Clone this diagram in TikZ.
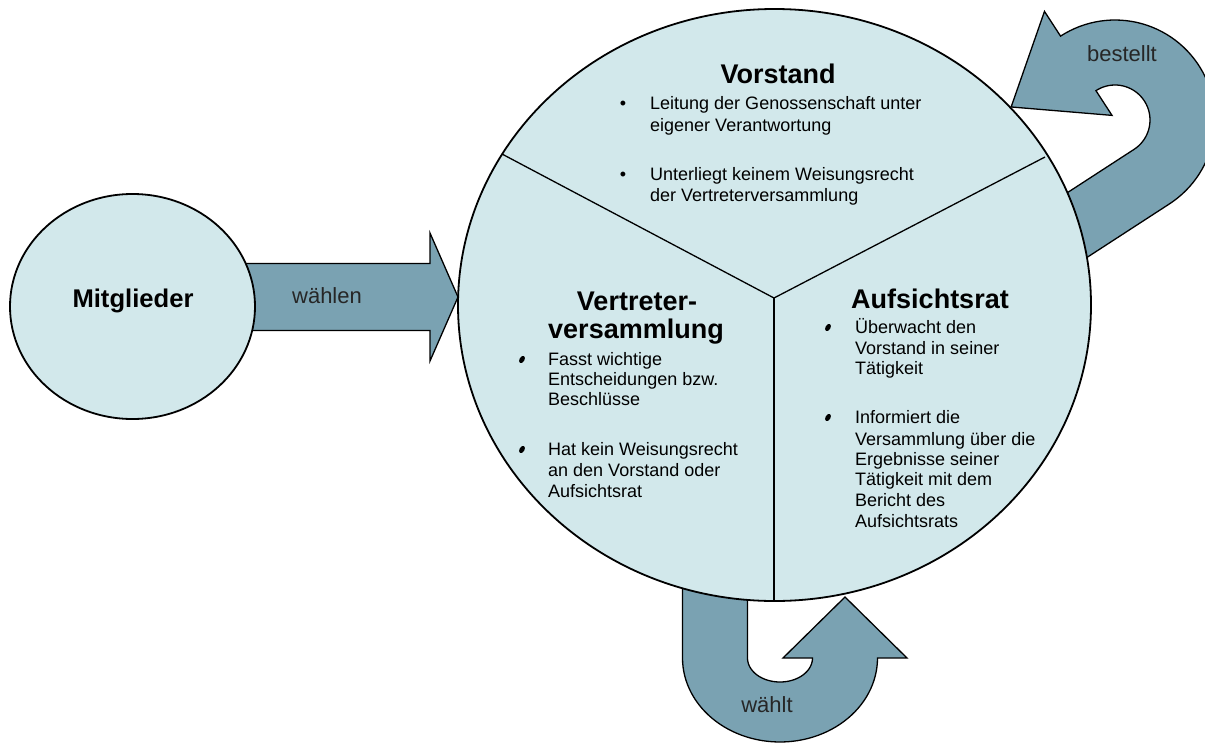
\documentclass[tikz,border=0pt]{standalone}
\usepackage{fontspec}
\setmainfont{Liberation Sans}
\usetikzlibrary{shapes.geometric}
\definecolor{arrowfill}{HTML}{7AA2B2}
\definecolor{bubble}{HTML}{D2E8EB}
\begin{document}
\begin{tikzpicture}[x=1pt,y=-1pt,
  uarrow/.style={fill=arrowfill, draw=black, line width=1.3pt, line join=miter},
  bubbleshape/.style={ellipse, fill=bubble, draw=black, line width=1.8pt, inner sep=0pt},
  divider/.style={draw=black, line width=1.3pt},
  title/.style={font=\fontsize{27}{31}\selectfont\bfseries, inner sep=0pt, anchor=base},
  txt/.style={font=\fontsize{18}{21}\selectfont, inner sep=0pt, anchor=base west},
  bul/.style={font=\fontsize{18}{21}\selectfont, inner sep=0pt, anchor=base},
  sbul/.style={ellipse, fill=black, inner sep=0pt, minimum width=8pt, minimum height=5pt, rotate=60},
  lbl/.style={font=\fontsize{22}{26}\selectfont, inner sep=0pt, anchor=base, text=black!85},
  uturnlow/.pic={
    \draw[uarrow] (-97.5,-150) -- (-97.5,0)
      -- plot[domain=180:0, samples=60] ({97.5*cos(\x)},{84*sin(\x)})
      -- (127,0) -- (65,-61) -- (3,0) -- (32.5,0)
      -- plot[domain=0:180, samples=40] ({32.5*cos(\x)},{24*sin(\x)})
      -- (-32.5,-150) -- cycle;
  },
  uturnhigh/.pic={
    \draw[uarrow] (-100,-160) -- (-100,0)
      -- plot[domain=180:0, samples=60] ({100*cos(\x)},{100*sin(\x)})
      -- (129.5,0) -- (67.5,-80) -- (5.5,0) -- (35,0)
      -- plot[domain=0:180, samples=40] ({35*cos(\x)},{35*sin(\x)})
      -- (-35,-160) -- cycle;
  }]
\useasboundingbox (0,0) rectangle (1205,742);
\clip (0,0) rectangle (1205,742);

% block arrows (behind the bubbles)
\draw[uarrow] (240,263.5) -- (430,263.5) -- (430,233) -- (458,297) -- (430,361) -- (430,330.5) -- (240,330.5) -- cycle;
\pic[rotate=123] (best) at (1115,120) {uturnhigh};
\pic (waehlt) at (780,658) {uturnlow};

% bubbles
\node[bubbleshape, minimum width=245pt, minimum height=225pt] (mit) at (132.5,306.5) {};
\node[bubbleshape, minimum width=633pt, minimum height=592pt] (main) at (774.5,305) {};

% dividers
\coordinate (J) at (774,298);
\coordinate (eL) at (502,154);
\coordinate (eR) at (1045,157);
\coordinate (eB) at (774,601);
\draw[divider] (J) -- (eL);
\draw[divider] (J) -- (eR);
\draw[divider] (J) -- (eB);

% labels
\node[font=\fontsize{25.6}{30}\selectfont\bfseries, inner sep=0pt, anchor=base] (mitlbl) at (133,307) {Mitglieder};
\node[lbl] (l1) at (327,303) {wählen};
\node[lbl] (l2) at (1122,61) {bestellt};
\node[lbl] (l3) at (767,712) {wählt};

% Vorstand
\node[title] (tV) at (778,83) {Vorstand};
\node[bul] (bV1) at (623,109) {•};
\node[txt] (v1) at (650,109) {Leitung der Genossenschaft unter};
\node[txt] (v2) at (650,131) {eigener Verantwortung};
\node[bul] (bV2) at (623,180) {•};
\node[txt] (v3) at (650,180) {Unterliegt keinem Weisungsrecht};
\node[txt] (v4) at (650,201) {der Vertreterversammlung};

% Vertreterversammlung
\node[title] (tW1) at (637,310) {Vertreter-};
\node[title] (tW2) at (636,338) {versammlung};
\node[sbul] (bW1) at (522,359.5) {};
\node[txt] (w1) at (548,365) {Fasst wichtige};
\node[txt] (w2) at (548,385) {Entscheidungen bzw.};
\node[txt] (w3) at (548,405) {Beschlüsse};
\node[sbul] (bW2) at (522,449.5) {};
\node[txt] (w4) at (548,455) {Hat kein Weisungsrecht};
\node[txt] (w5) at (548,476) {an den Vorstand oder};
\node[txt] (w6) at (548,497) {Aufsichtsrat};

% Aufsichtsrat
\node[title] (tA) at (930,308) {Aufsichtsrat};
\node[sbul] (bA1) at (828,327.5) {};
\node[txt] (a1) at (855,333) {Überwacht den};
\node[txt] (a2) at (855,354) {Vorstand in seiner};
\node[txt] (a3) at (855,374) {Tätigkeit};
\node[sbul] (bA2) at (828,417.5) {};
\node[txt] (a4) at (855,423) {Informiert die};
\node[txt] (a5) at (855,445) {Versammlung über die};
\node[txt] (a6) at (855,465) {Ergebnisse seiner};
\node[txt] (a7) at (855,485) {Tätigkeit mit dem};
\node[txt] (a8) at (855,506) {Bericht des};
\node[txt] (a9) at (855,527) {Aufsichtsrats};
\end{tikzpicture}
\end{document}
